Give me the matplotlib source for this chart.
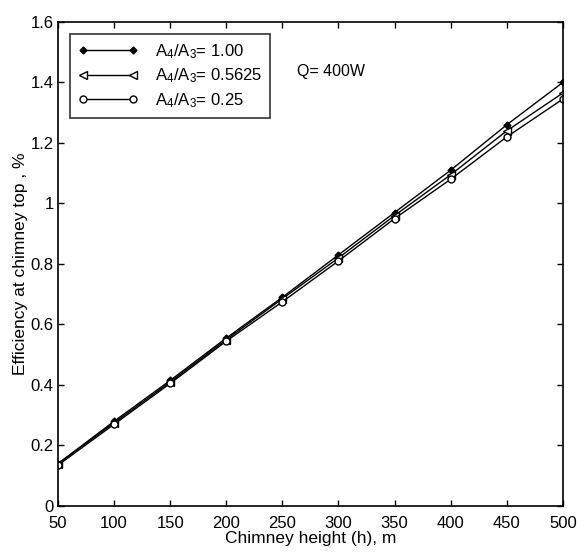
import matplotlib

matplotlib.use("Agg")

import matplotlib.pyplot as plt  # noqa: E402

plt.rcParams["font.family"] = ["Liberation Sans", "DejaVu Sans"]
plt.rcParams["mathtext.default"] = "regular"

# chimney height (m) and efficiency at the top (%) for three area ratios
height = [50, 100, 150, 200, 250, 300, 350, 400, 450, 500]
eff_100 = [0.14, 0.28, 0.415, 0.555, 0.69, 0.83, 0.97, 1.11, 1.26, 1.40]
eff_05625 = [0.14, 0.275, 0.41, 0.55, 0.685, 0.82, 0.96, 1.095, 1.24, 1.365]
eff_025 = [0.135, 0.27, 0.405, 0.545, 0.675, 0.81, 0.95, 1.08, 1.22, 1.345]

labels = ["A$_4$/A$_3$= 1.00", "A$_4$/A$_3$= 0.5625", "A$_4$/A$_3$= 0.25"]
x_ticks = [50, 100, 150, 200, 250, 300, 350, 400, 450, 500]
y_ticks = [0, 0.2, 0.4, 0.6, 0.8, 1.0, 1.2, 1.4, 1.6]
y_ticklabels = ["0", "0.2", "0.4", "0.6", "0.8", "1", "1.2", "1.4", "1.6"]

fig = plt.figure(figsize=(5.77, 5.59), dpi=100)
ax = fig.add_axes([0.1005, 0.0948, 0.875, 0.866])

ax.plot(height, eff_100, color="k", lw=1.0, marker="D", ms=3.5,
        mfc="k", mec="k", label=labels[0])
ax.plot(height, eff_05625, color="k", lw=1.0, marker="<", ms=6,
        mfc="white", mec="k", mew=1.0, label=labels[1])
ax.plot(height, eff_025, color="k", lw=1.0, marker="o", ms=5,
        mfc="white", mec="k", mew=1.0, label=labels[2])

ax.set_xlim(50, 500)
ax.set_ylim(0, 1.6)
ax.set_xticks(x_ticks)
ax.set_yticks(y_ticks)
ax.set_yticklabels(y_ticklabels)
ax.tick_params(direction="in", top=True, right=True, labelsize=12,
               length=4, width=1)
ax.tick_params(axis="x", pad=7)
ax.tick_params(axis="y", pad=3)
for s in ax.spines.values():
    s.set_linewidth(1.2)

ax.set_xlabel("Chimney height (h), m", fontsize=12.5, labelpad=0)
ax.set_ylabel("Efficiency at chimney top , %", fontsize=12.5, labelpad=2)
ax.text(263, 1.435, "Q= 400W", fontsize=11.5, va="center", ha="left")

leg = ax.legend(loc="upper left", numpoints=2, fontsize=12, frameon=True,
                fancybox=False, edgecolor="k", handlelength=3.6,
                borderaxespad=0.7, labelspacing=0.35, handletextpad=1.0,
                borderpad=0.5)
leg.get_frame().set_linewidth(1.2)

fig.savefig("out.png", dpi=100)
plt.close(fig)
